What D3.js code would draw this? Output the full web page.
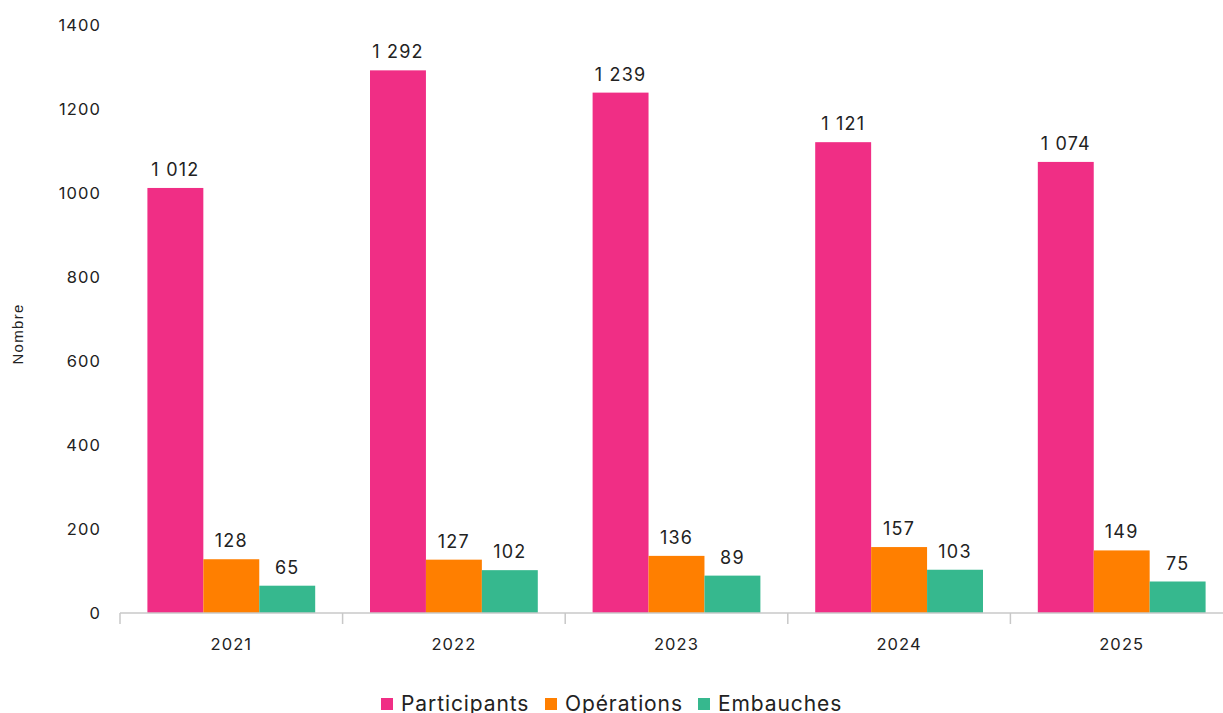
<!DOCTYPE html>
<html><head><meta charset="utf-8">
<script src="https://cdn.jsdelivr.net/npm/d3@7"></script>
<style>body{margin:0;background:#fff}svg{display:block;font-family:Inter,"Open Sans",sans-serif}</style>
</head><body><svg id="c" width="1223" height="713"></svg>
<script>
const years = ["2021","2022","2023","2024","2025"];
const seriesNames = ["Participants","Opérations","Embauches"];
const participants = [1012,1292,1239,1121,1074];
const operations = [128,127,136,157,149];
const embauches = [65,102,89,103,75];
const yTicks = [0,200,400,600,800,1000,1200,1400];
const colors = ["#F02E85","#FF7F00","#36B88E"];
const series = [participants, operations, embauches];

const svg = d3.select("#c");
const x0 = d3.scaleBand().domain(years).range([120,1233]).paddingInner(0).paddingOuter(0);
const x1 = d3.scaleBand().domain(seriesNames).range([0,x0.bandwidth()]).paddingInner(0).paddingOuter(0.49);
const y = d3.scaleLinear().domain([0,1400]).range([613,25]);
const fmt = v => d3.format(",")(v).replace(/,/g," ");

// y tick labels
svg.append("g").selectAll("text").data(yTicks).join("text")
  .attr("x",101).attr("y",d=>y(d)).attr("dy","0.35em").attr("text-anchor","end")
  .attr("font-size",16.5).attr("letter-spacing",1.1).attr("fill","#222").text(d=>d);

// y title
svg.append("text").attr("transform","translate(23,334) rotate(-90)")
  .attr("text-anchor","middle").attr("font-family","'Liberation Sans',Arial,sans-serif")
  .attr("font-size",15).attr("letter-spacing",1.3).attr("fill","#222").text("Nombre");

// bars
years.forEach((yr,i)=>{
  const g = svg.append("g").attr("transform",`translate(${x0(yr)},0)`);
  seriesNames.forEach((s,j)=>{
    const v = series[j][i];
    g.append("rect").attr("x",x1(s)).attr("width",x1.bandwidth())
      .attr("y",y(v)).attr("height",y(0)-y(v)).attr("fill",colors[j]);
    g.append("text").attr("x",x1(s)+x1.bandwidth()/2).attr("y",y(v)-12)
      .attr("text-anchor","middle").attr("font-size",18).attr("letter-spacing",1.2)
      .attr("fill","#222").text(fmt(v));
  });
});

// x axis
const xa = svg.append("g").attr("transform","translate(0,613)");
xa.append("line").attr("x1",120).attr("x2",1233).attr("stroke","#c8c8c8").attr("stroke-width",1.5);
const bounds = years.map(d=>x0(d)).concat([x0.range()[1]]);
xa.selectAll("line.t").data(bounds).join("line").attr("class","t")
  .attr("x1",d=>d).attr("x2",d=>d).attr("y1",0).attr("y2",11).attr("stroke","#c8c8c8").attr("stroke-width",1.5);
xa.selectAll("text").data(years).join("text")
  .attr("x",d=>x0(d)+x0.bandwidth()/2).attr("y",37).attr("text-anchor","middle")
  .attr("font-size",16.5).attr("letter-spacing",1.1).attr("fill","#222").text(d=>d);

// legend
const leg = svg.append("g");
const legX = [381,545,698];
seriesNames.forEach((s,j)=>{
  leg.append("rect").attr("x",legX[j]).attr("y",698).attr("width",12).attr("height",12).attr("fill",colors[j]);
  leg.append("text").attr("x",legX[j]+20).attr("y",711).attr("font-size",21).attr("letter-spacing",0.9)
    .attr("fill","#222").text(s);
});
</script></body></html>
